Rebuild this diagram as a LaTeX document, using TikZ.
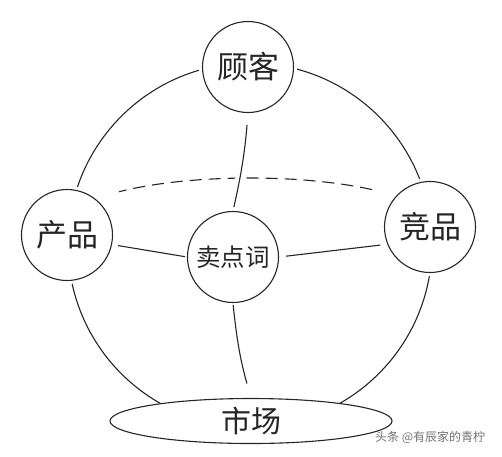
\documentclass[tikz,border=0pt]{standalone}
\usepackage{fontspec}
\setmainfont{Noto Sans CJK SC}
\usetikzlibrary{shapes.geometric}
\tikzset{
  ln/.style={line width=1.1pt, draw=black!85},
  blob/.style={circle, ln, fill=white, minimum size=91pt, inner sep=0pt,
    preaction={draw=white, line width=7pt},
    font=\fontsize{31}{31}\selectfont, text=black!85},
  hub/.style={blob, font=\fontsize{24.5}{25}\selectfont},
  oval/.style={ellipse, ln, fill=white, minimum width=282pt, minimum height=45pt, inner sep=0pt,
    font=\fontsize{30}{30}\selectfont, text=black!85},
  dashedarc/.style={ln, dash pattern=on 12pt off 7pt},
  halo/.style={preaction={draw=white, line width=9pt}},
  mark wm/.style={text=black!55, font=\fontsize{12}{12}\selectfont, inner sep=0pt}
}
\begin{document}
\begin{tikzpicture}[x=1pt, y=-1pt]
\useasboundingbox (0,0) rectangle (502,456);
\fill[white] (0,0) rectangle (502,456);
% sphere outline
\draw[ln] (250,245) circle[radius=182pt];
% back equator (dashed)
\draw[dashedarc] plot[domain=48:136, samples=60] ({250+182*cos(\x)}, {223-45*sin(\x)});
% nodes
\node[oval] (sc) at (251,421) {市场};
\node[blob] (gk) at (248,67) {顾客};
\node[blob] (cp) at (67,235) {产品};
\node[blob] (jp) at (430,227) {竞品};
\node[hub] (md) at (233,257) {卖点词};
% connectors
\draw[ln, halo, shorten <=12pt, shorten >=4pt] (gk.south) to[bend left=4] (md.north);
\draw[ln, shorten <=2pt, shorten >=15pt] (md.south) to[bend right=5] (sc.north);
\draw[ln, shorten <=6pt, shorten >=2pt] (cp.-12) -- (md.west);
\draw[ln, shorten <=7pt, shorten >=7pt] (md.east) -- (jp.202);
% watermark
\node[mark wm, anchor=west] (wm) at (375,437) {头条 @有辰家的青柠};
\end{tikzpicture}
\end{document}
